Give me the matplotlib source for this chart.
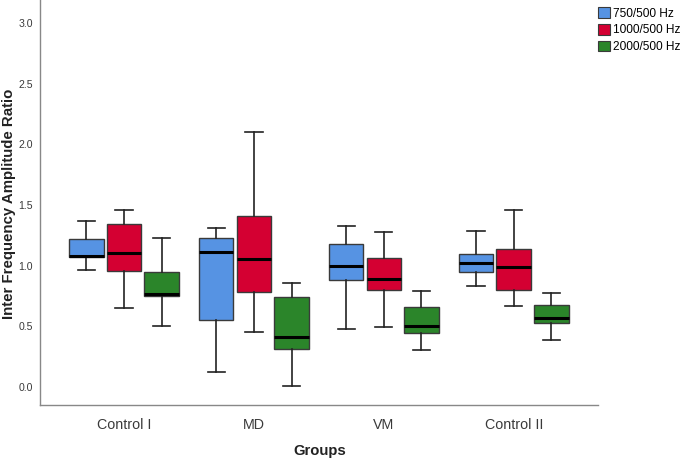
import matplotlib
matplotlib.use("Agg")
import matplotlib.pyplot as plt
from matplotlib.patches import Patch

groups = ["Control I", "MD", "VM", "Control II"]
series = ["750/500 Hz", "1000/500 Hz", "2000/500 Hz"]
colors = ["#5693E3", "#D40032", "#2B852A"]

# per series: lists over groups
whislo = [[0.96, 0.12, 0.48, 0.83],
          [0.65, 0.45, 0.49, 0.67],
          [0.50, 0.01, 0.30, 0.385]]
q1 = [[1.07, 0.555, 0.88, 0.95],
      [0.955, 0.78, 0.80, 0.80],
      [0.745, 0.315, 0.445, 0.525]]
med = [[1.08, 1.11, 1.00, 1.025],
       [1.10, 1.05, 0.89, 0.99],
       [0.765, 0.41, 0.50, 0.565]]
q3 = [[1.215, 1.225, 1.18, 1.095],
      [1.34, 1.41, 1.065, 1.135],
      [0.95, 0.74, 0.655, 0.675]]
whishi = [[1.365, 1.31, 1.33, 1.285],
          [1.455, 2.105, 1.275, 1.455],
          [1.225, 0.855, 0.79, 0.775]]

plt.rcParams['font.family'] = ['Liberation Sans', 'DejaVu Sans']
fig = plt.figure(figsize=(6.85, 4.61), dpi=100)
ax = fig.add_axes([40/685, 1-405/461, (598-40)/685, 405/461])

offset = 0.29
width = 0.265
for s in range(3):
    stats = []
    for g in range(4):
        stats.append(dict(med=med[s][g], q1=q1[s][g], q3=q3[s][g],
                          whislo=whislo[s][g], whishi=whishi[s][g], fliers=[]))
    pos = [g + (s - 1) * offset for g in range(4)]
    ax.bxp(stats, positions=pos, widths=width, patch_artist=True,
           showfliers=False,
           boxprops=dict(facecolor=colors[s], edgecolor="#3a3a3a", linewidth=1.0),
           medianprops=dict(color="black", linewidth=2.2),
           whiskerprops=dict(color="#222222", linewidth=1.2),
           capprops=dict(color="#222222", linewidth=1.2),
           capwidths=width * 0.5)

ax.set_xlim(-0.647, 3.649)
ax.set_ylim(-0.15, 3.19)
ax.set_xticks(range(4))
ax.set_xticklabels(groups, fontsize=10.3, color="#3a3a3a")
ax.set_yticks([0.0, 0.5, 1.0, 1.5, 2.0, 2.5, 3.0])
ax.set_yticklabels(["0.0", "0.5", "1.0", "1.5", "2.0", "2.5", "3.0"], fontsize=7.6, color="#3a3a3a")
ax.tick_params(axis='both', length=0)
ax.tick_params(axis='x', pad=9)
ax.tick_params(axis='y', pad=5)
for sp in ["top", "right"]:
    ax.spines[sp].set_visible(False)
for sp in ["left", "bottom"]:
    ax.spines[sp].set_color("#888888")
    ax.spines[sp].set_linewidth(1.0)

fig.text(320/685, 1-451/461, "Groups", fontsize=10.7, fontweight="bold",
         ha="center", va="center", color="#222222")
fig.text(9/685, 1-204/461, "Inter Frequency Amplitude Ratio", fontsize=10.8,
         fontweight="bold", rotation=90, ha="center", va="center", color="#222222")

handles = [Patch(facecolor=colors[i], edgecolor="#3a3a3a", linewidth=0.8, label=series[i]) for i in range(3)]
fig.legend(handles=handles, loc="upper left", bbox_to_anchor=(596/685, 1 - 5/461),
           frameon=False, fontsize=8.6, handlelength=1.0, handleheight=1.0,
           handletextpad=0.2, labelspacing=0.35, borderpad=0.2, borderaxespad=0)

fig.savefig("out.png", dpi=100)
